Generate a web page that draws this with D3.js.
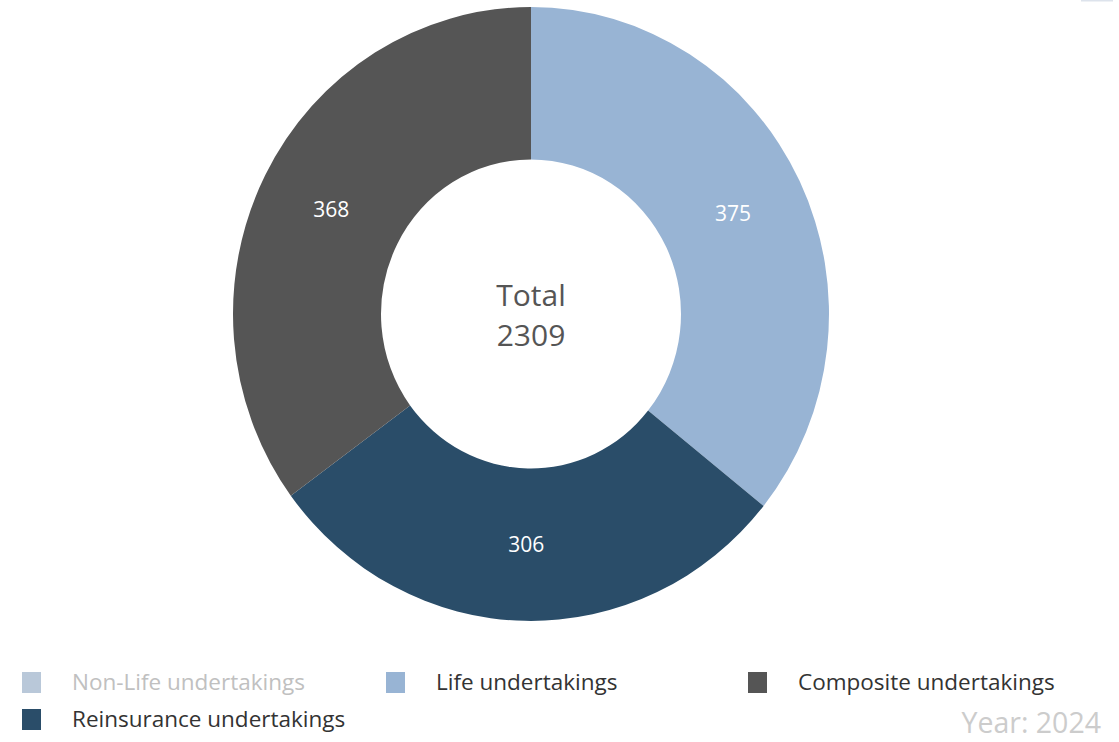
<!DOCTYPE html>
<html>
<head>
<meta charset="utf-8">
<script src="https://cdn.jsdelivr.net/npm/d3@7"></script>
<style>
  html, body { margin: 0; padding: 0; background: #fff; }
  #chart { width: 1119px; height: 742px; }
  text { font-family: "Open Sans", "Noto Sans", sans-serif; }
</style>
</head>
<body>
<div id="chart"></div>
<script>
const categories = ["Non-Life undertakings", "Life undertakings", "Reinsurance undertakings", "Composite undertakings"];
const values = [1260, 375, 306, 368];
const visible = [false, true, true, true];
const colors = ["#b7c7d9", "#98b4d4", "#2a4d69", "#555555"];
const legendOrder = [0, 1, 3, 2];
const total = 2309;
const year = 2024;

const width = 1119;
const height = 742;
const cx = 531;
const cy = 314;
const outerR = 298;
const innerR = 150;
const stretch = 1.03; // reference is slightly taller than wide

const svg = d3.select("#chart")
  .append("svg")
  .attr("width", width)
  .attr("height", height)
  .attr("viewBox", [0, 0, width, height]);

const items = categories.map((name, i) => ({ name, value: values[i], visible: visible[i], color: colors[i] }));

const pie = d3.pie().sort(null).value((d) => d.value);
const arcs = pie(items.filter((d) => d.visible));
const arc = d3.arc().innerRadius(innerR).outerRadius(outerR);

// slices
svg.append("g")
  .attr("transform", `translate(${cx},${cy}) scale(1,${stretch})`)
  .selectAll("path")
  .data(arcs)
  .join("path")
  .attr("fill", (d) => d.data.color)
  .attr("d", arc);

// data labels
svg.append("g")
  .selectAll("text")
  .data(arcs)
  .join("text")
  .attr("x", (d) => cx + arc.centroid(d)[0])
  .attr("y", (d) => cy + arc.centroid(d)[1] * stretch)
  .attr("text-anchor", "middle")
  .attr("dy", "0.35em")
  .attr("fill", "#fff")
  .attr("font-size", 21)
  .text((d) => d.data.value);

// centre text
const centre = svg.append("text")
  .attr("text-anchor", "middle")
  .attr("fill", "#555")
  .attr("font-size", 30);
centre.append("tspan").attr("x", cx).attr("y", cy - 8).text("Total");
centre.append("tspan").attr("x", cx).attr("y", cy + 32).text(total);

// legend
const legendPos = [
  { x: 22, y: 682 },
  { x: 386, y: 682 },
  { x: 748, y: 682 },
  { x: 22, y: 719 }
];
const legend = svg.append("g")
  .selectAll("g")
  .data(legendOrder.map((i) => items[i]))
  .join("g")
  .attr("transform", (d, i) => `translate(${legendPos[i].x},${legendPos[i].y})`);

legend.append("rect")
  .attr("x", 0)
  .attr("y", -10)
  .attr("width", 19)
  .attr("height", 21)
  .attr("fill", (d) => d.visible ? d.color : "#b9c8d9");

legend.append("text")
  .attr("x", 50)
  .attr("y", 0)
  .attr("dy", "0.35em")
  .attr("font-size", 22.5)
  .attr("fill", (d) => d.visible ? "#333" : "#c0c0c0")
  .text((d) => d.name);

// year caption
svg.append("text")
  .attr("x", 1101)
  .attr("y", 733)
  .attr("text-anchor", "end")
  .attr("font-size", 28.5)
  .attr("fill", "#cccccc")
  .text(`Year: ${year}`);

// edge of the export button peeking in at the top right
svg.append("rect")
  .attr("x", 1081)
  .attr("y", 0)
  .attr("width", 32)
  .attr("height", 1.5)
  .attr("fill", "#dde3ec");
</script>
</body>
</html>
